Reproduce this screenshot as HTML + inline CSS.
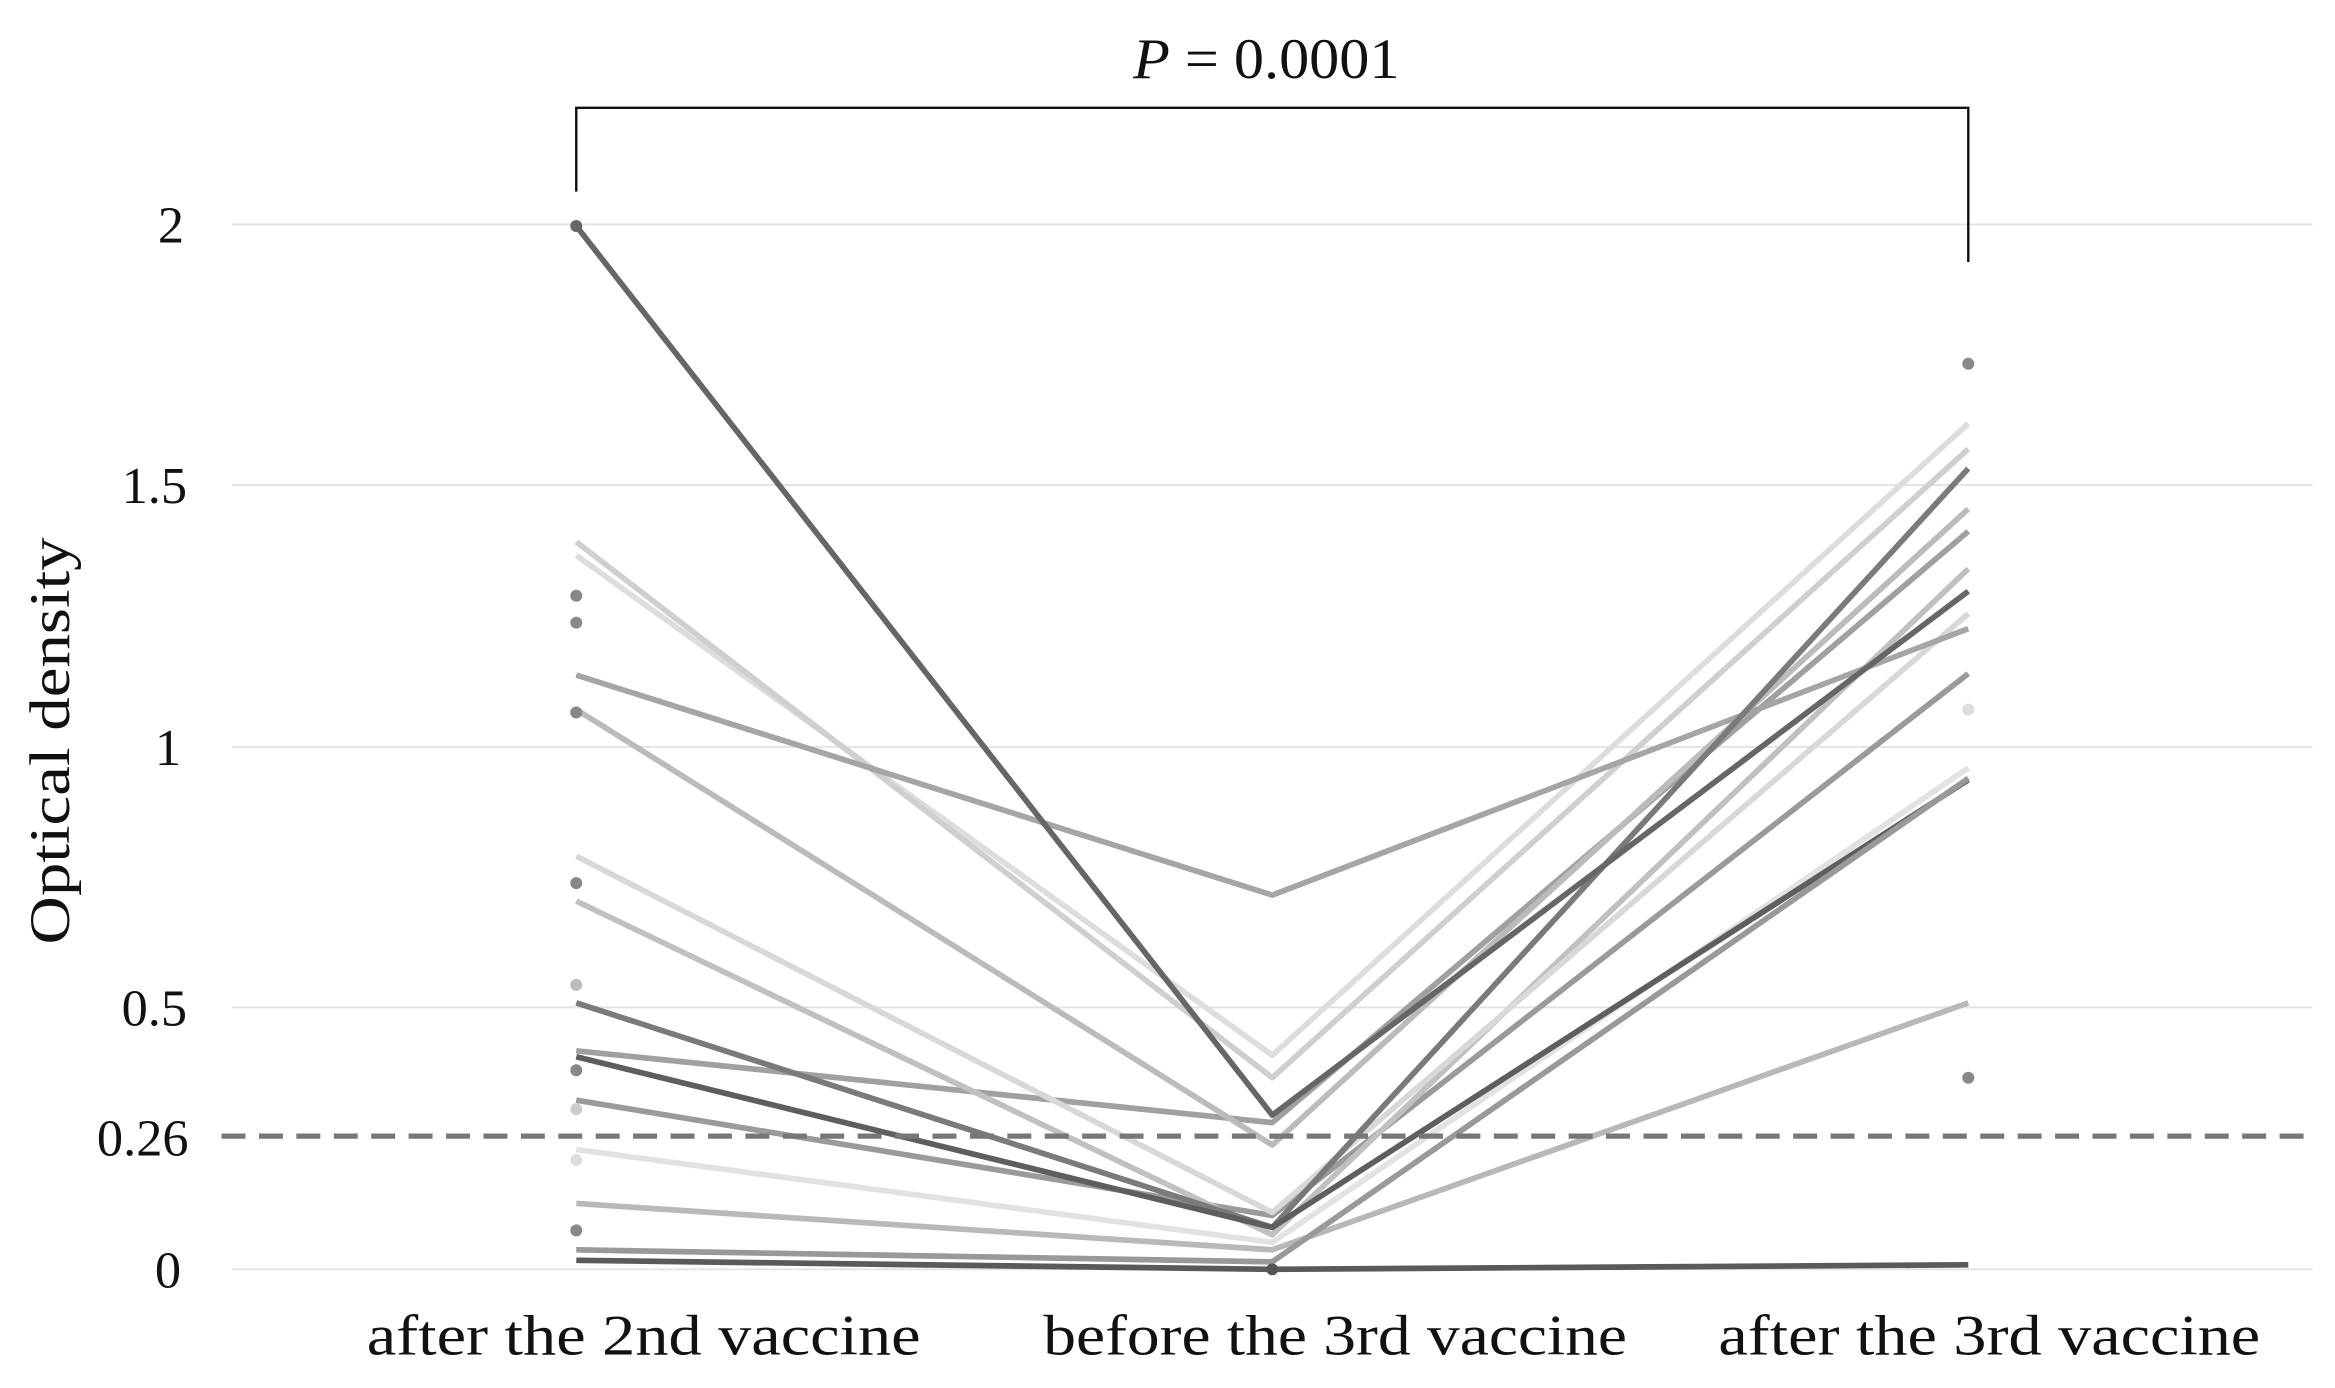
<!DOCTYPE html>
<html><head><meta charset="utf-8"><style>
html,body{margin:0;padding:0;background:#fff;}
svg{display:block;}
text{font-family:"Liberation Serif",serif;fill:#111;}
</style></head><body>
<svg width="2335" height="1388" viewBox="0 0 1560 927.3" preserveAspectRatio="none" xmlns="http://www.w3.org/2000/svg">
<g stroke="#e3e3e3" stroke-width="1.3">
<line x1="155" y1="150" x2="1545" y2="150"/>
<line x1="155" y1="324" x2="1545" y2="324"/>
<line x1="155" y1="499" x2="1545" y2="499"/>
<line x1="155" y1="673" x2="1545" y2="673"/>
<line x1="155" y1="848" x2="1545" y2="848"/>
</g>
<g font-size="35" text-anchor="end">
<text x="123" y="162">2</text>
<text x="125" y="336">1.5</text>
<text x="121" y="511">1</text>
<text x="125" y="685">0.5</text>
<text x="126" y="772">0.26</text>
<text x="121" y="860">0</text>
</g>
<text transform="translate(46,495) rotate(-90)" font-size="38" text-anchor="middle" textLength="272" lengthAdjust="spacingAndGlyphs">Optical density</text>
<g font-size="38">
<text x="245" y="905" textLength="370" lengthAdjust="spacingAndGlyphs">after the 2nd vaccine</text>
<text x="697" y="905" textLength="390" lengthAdjust="spacingAndGlyphs">before the 3rd vaccine</text>
<text x="1148" y="905" textLength="362" lengthAdjust="spacingAndGlyphs">after the 3rd vaccine</text>
</g>
<path d="M385,128 V72 H1315 V175" fill="none" stroke="#111" stroke-width="1.6"/>
<text x="757" y="52" font-size="38" textLength="178" lengthAdjust="spacingAndGlyphs"><tspan font-style="italic">P</tspan> = 0.0001</text>
<g fill="none" stroke-width="3.8" stroke-linejoin="round">
<polyline points="385,804 850,835 1315,670" stroke="#b8b8b8"/>
<polyline points="385,768 850,830 1315,513" stroke="#e2e2e2"/>
<polyline points="385,735 850,812 1315,450" stroke="#9a9a9a"/>
<polyline points="385,702 850,750 1315,355" stroke="#a0a0a0"/>
<polyline points="385,602 850,825 1315,380" stroke="#c0c0c0"/>
<polyline points="385,572 850,810 1315,410" stroke="#d8d8d8"/>
<polyline points="385,474 850,765 1315,340" stroke="#bbbbbb"/>
<polyline points="385,371 850,705 1315,283" stroke="#dddddd"/>
<polyline points="385,362 850,720 1315,300" stroke="#cfcfcf"/>
<polyline points="385,451 850,598 1315,420" stroke="#a5a5a5"/>
<polyline points="385,670 850,820 1315,313" stroke="#7a7a7a"/>
<polyline points="385,706 850,820 1315,521" stroke="#5e5e5e"/>
<polyline points="385,835 850,843 1315,520" stroke="#999"/>
<polyline points="385,842 850,848 1315,845" stroke="#5a5a5a"/>
<polyline points="385,151 850,745 1315,395" stroke="#666"/>
</g>
<line x1="148" y1="759" x2="1540" y2="759" stroke="#777" stroke-width="3.5" stroke-dasharray="16,9"/>
<g fill="#888">
<circle cx="385" cy="398" r="4"/><circle cx="385" cy="416" r="4"/><circle cx="385" cy="476" r="4"/>
<circle cx="385" cy="590" r="4"/><circle cx="385" cy="658" r="4" fill="#bbb"/><circle cx="385" cy="715" r="4"/>
<circle cx="385" cy="741" r="4" fill="#ccc"/><circle cx="385" cy="775" r="4" fill="#ddd"/><circle cx="385" cy="822" r="4"/>
<circle cx="1315" cy="243" r="4"/><circle cx="1315" cy="474" r="4" fill="#ddd"/><circle cx="1315" cy="720" r="4"/>
<circle cx="850" cy="848" r="4" fill="#555"/><circle cx="385" cy="151" r="4" fill="#666"/>
</g>
</svg>
</body></html>
